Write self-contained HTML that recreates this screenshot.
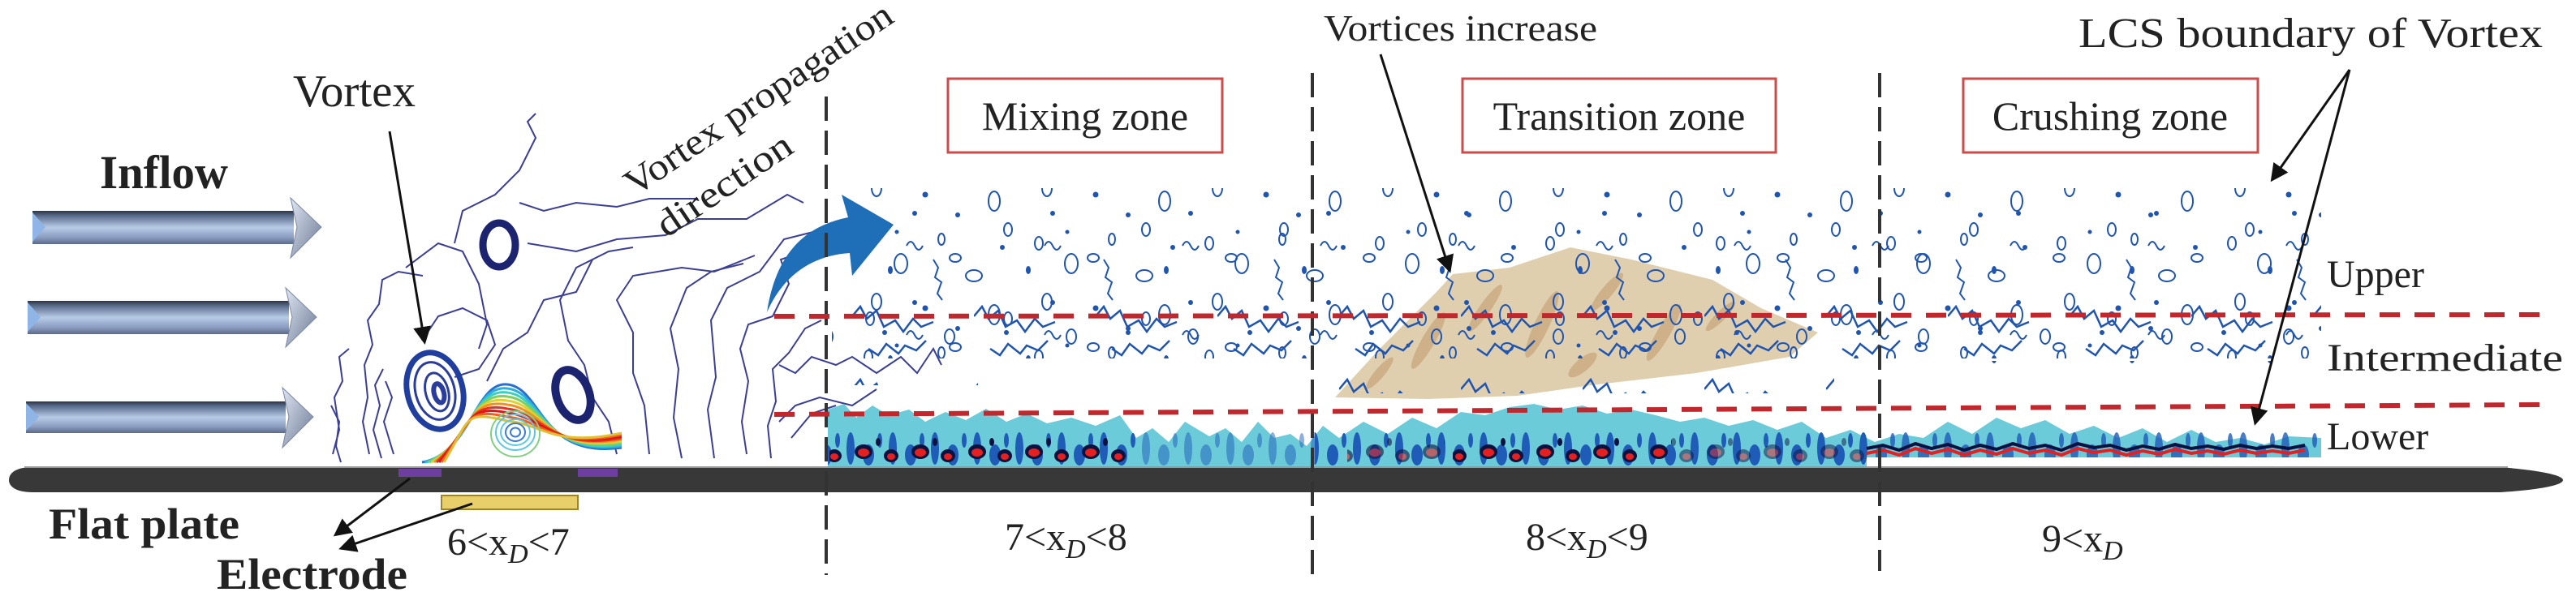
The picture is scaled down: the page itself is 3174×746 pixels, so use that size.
<!DOCTYPE html>
<html><head><meta charset="utf-8">
<style>
html,body{margin:0;padding:0;background:#fff;}
svg{display:block;}
text{font-family:"Liberation Serif","DejaVu Serif",serif;}
</style></head>
<body>
<svg id="fig" width="3174" height="746" viewBox="0 0 3174 746" xmlns="http://www.w3.org/2000/svg" font-family="Liberation Serif, DejaVu Serif, serif">
<defs>
<linearGradient id="ag" x1="0" y1="0" x2="0" y2="1">
<stop offset="0" stop-color="#2c3444"/><stop offset="0.15" stop-color="#5a6c8c"/><stop offset="0.5" stop-color="#b8cbe6"/><stop offset="0.8" stop-color="#8a9cc0"/><stop offset="1" stop-color="#5c6a8a"/>
</linearGradient>
<linearGradient id="hg" x1="0" y1="0" x2="1" y2="1">
<stop offset="0" stop-color="#dfe6f2"/><stop offset="1" stop-color="#6a7894"/>
</linearGradient>
<marker id="ahb" markerWidth="22" markerHeight="22" refX="18" refY="11" orient="auto" markerUnits="userSpaceOnUse" viewBox="0 0 22 22">
<path d="M0,0 L22,11 L0,22 z" fill="#111"/></marker>
<clipPath id="tanclip"><polygon points="1645,490 1700,430 1770,360 1790,338 1860,330 1935,305 2010,320 2110,345 2170,380 2240,410 2205,440 2090,460 1960,475 1870,488 1760,492"/></clipPath>
<pattern id="loopA" width="210" height="140" patternUnits="userSpaceOnUse">
<g fill="none" stroke="#1f55b0" stroke-width="2">
<ellipse cx="20" cy="20" rx="5" ry="8"/><ellipse cx="60" cy="45" rx="8" ry="12"/><ellipse cx="110" cy="15" rx="4" ry="7"/>
<ellipse cx="150" cy="60" rx="10" ry="7"/><ellipse cx="30" cy="92" rx="6" ry="10"/><ellipse cx="175" cy="108" rx="7" ry="12"/>
<path d="M100,40 l6,10 l-4,12 l8,6 l-5,14 l6,8"/>
</g>
<g fill="#1f55b0"><circle cx="90" cy="100" r="3.5"/><circle cx="130" cy="125" r="3"/><circle cx="185" cy="25" r="3"/><circle cx="55" cy="6" r="2.5"/></g>
</pattern>
<pattern id="loopB" width="170" height="110" patternUnits="userSpaceOnUse" x="37" y="23">
<g fill="none" stroke="#1f55b0" stroke-width="2">
<ellipse cx="15" cy="40" rx="5" ry="8"/><ellipse cx="120" cy="75" rx="7" ry="5"/><path d="M60,60 q5,-10 10,0 t10,0"/>
</g>
<g fill="#1f55b0"><circle cx="70" cy="20" r="3"/><ellipse cx="40" cy="90" rx="3" ry="5"/></g>
</pattern>
<pattern id="squig" width="150" height="90" patternUnits="userSpaceOnUse" y="360">
<path d="M0,30 l10,-12 l8,15 l12,-10 l9,20 l14,-8 l10,14 l12,-16 l10,10 l15,-6 M20,70 l12,8 l10,-14 l15,12 l8,-10 l14,6 l12,-12" fill="none" stroke="#1f55b0" stroke-width="2.5"/>
<ellipse cx="120" cy="55" rx="6" ry="9" fill="none" stroke="#1f55b0" stroke-width="2"/>
<circle cx="40" cy="50" r="3" fill="#1f55b0"/>
</pattern>
<pattern id="blueCols" width="52" height="80" patternUnits="userSpaceOnUse" y="495">
<ellipse cx="8" cy="58" rx="5" ry="20" fill="#1e5cb8"/><ellipse cx="30" cy="66" rx="7" ry="13" fill="#1e5cb8"/><ellipse cx="44" cy="48" rx="3" ry="9" fill="#1e5cb8"/>
</pattern>
<pattern id="cores" width="70" height="40" patternUnits="userSpaceOnUse" y="535">
<ellipse cx="14" cy="22" rx="11" ry="9" fill="#0b1240"/><ellipse cx="14" cy="23" rx="7" ry="5" fill="#e52020"/>
<ellipse cx="48" cy="27" rx="9" ry="8" fill="#0b1240"/><ellipse cx="48" cy="28" rx="5" ry="4" fill="#e52020"/>
<ellipse cx="32" cy="10" rx="3" ry="5" fill="#0b1240"/>
</pattern>
</defs>

<!-- inflow arrows -->
<g>
<g>
<rect x="40" y="260" width="322" height="41" fill="url(#ag)"/>
<polygon points="358,244 396,280 358,318 366,280" fill="url(#hg)" stroke="#7a88a4" stroke-width="1"/>
<polygon points="40,262 56,280 40,298" fill="#8fb4e6"/></g>
<g>
<rect x="34" y="371" width="322" height="41" fill="url(#ag)"/>
<polygon points="352,355 390,391 352,428 360,391" fill="url(#hg)" stroke="#7a88a4" stroke-width="1"/>
<polygon points="34,373 50,391 34,409" fill="#8fb4e6"/></g>
<g>
<rect x="32" y="495" width="320" height="39" fill="url(#ag)"/>
<polygon points="348,478 386,514 348,552 356,514" fill="url(#hg)" stroke="#7a88a4" stroke-width="1"/>
<polygon points="32,497 48,514 32,531" fill="#8fb4e6"/></g>
</g>
<text x="123" y="232" font-size="58" font-weight="bold" fill="#222" textLength="158" lengthAdjust="spacingAndGlyphs">Inflow</text>

<!-- streamlines -->
<g fill="none" stroke="#3b3e96" stroke-width="2">
<path d="M410,560 l8,-30 l-6,-40 l10,-20 l-4,-30 l12,-10 M420,570 l-6,-20 l4,-30 l-10,-20"/>
<path d="M455,560 l-8,-40 l6,-30 l-4,-40 l10,-25 l-6,-30 l14,-20 l4,-30 l20,-10 l30,5"/>
<path d="M470,565 l-10,-35 l8,-30 l-6,-25 l10,-20 M485,560 l-12,-40 l10,-30 l-8,-20"/>
<path d="M500,330 l40,-30 l30,10 l20,40 l10,50 l-10,30"/>
<path d="M520,420 l20,-30 l30,-10 l30,15 l10,30 l-20,30 l-30,10"/>
<path d="M560,300 l10,-40 l40,-20 l30,-30 l20,-40 l-10,-20 l10,-10 M640,250 l30,10 l40,-10 l50,5 l40,-10 l60,0"/>
<path d="M650,300 l60,10 l50,-15 l60,-5 l40,-20 l60,0 l50,-30 l20,10"/>
<path d="M760,560 l-10,-40 l-20,-30 l-10,-40 l-20,-30 l-10,-50 l20,-40 l40,-20 l30,-5"/>
<path d="M800,560 l-6,-60 l-14,-40 l0,-50 l-20,-40 l20,-30 l60,-10 l40,5 l50,-20"/>
<path d="M840,565 l-10,-50 l6,-60 l-10,-50 l20,-50 l30,-20 l40,-10"/>
<path d="M880,565 l-8,-60 l10,-40 l-6,-70 l20,-40 l40,-20 l30,-40 l40,-10"/>
<path d="M920,560 l-6,-40 l8,-50 l-10,-40 l10,-30 l30,-10 l20,-40 l-10,-30 l30,-10 l20,-30"/>
<path d="M950,565 l-4,-40 l10,-30 l-4,-40 l20,-20 l20,-30 l20,-10"/>
<path d="M960,450 l20,10 l20,-20 l30,10 l20,-10 l30,20 l30,-20 l20,20 l20,-30 l10,20"/>
<path d="M960,520 l20,-20 l30,-10 l40,10 l30,-20 M975,540 l25,-30 l30,-10"/>
<path d="M600,470 l20,-40 l30,-20 l20,-40 l40,-10 l20,-40"/>
</g>

<!-- tan region -->
<polygon points="1645,490 1700,430 1770,360 1790,338 1860,330 1935,305 2010,320 2110,345 2170,380 2240,410 2205,440 2090,460 1960,475 1870,488 1760,492" fill="#dccaa6" opacity="0.9"/>
<g fill="#c6a47a" opacity="0.7" clip-path="url(#tanclip)">
<ellipse cx="1760" cy="420" rx="8" ry="40" transform="rotate(30 1760 420)"/><ellipse cx="1830" cy="380" rx="7" ry="35" transform="rotate(35 1830 380)"/>
<ellipse cx="1900" cy="400" rx="9" ry="45" transform="rotate(25 1900 400)"/><ellipse cx="1980" cy="360" rx="7" ry="30" transform="rotate(40 1980 360)"/>
<ellipse cx="2050" cy="410" rx="8" ry="40" transform="rotate(30 2050 410)"/><ellipse cx="2120" cy="390" rx="6" ry="25" transform="rotate(45 2120 390)"/>
<ellipse cx="1700" cy="460" rx="6" ry="25" transform="rotate(40 1700 460)"/><ellipse cx="1950" cy="450" rx="8" ry="22" transform="rotate(50 1950 450)"/>
</g>
<g>
<rect x="1025" y="232" width="1835" height="210" fill="url(#loopA)"/>
<rect x="1025" y="232" width="1835" height="210" fill="url(#loopB)"/>
<rect x="1025" y="365" width="1835" height="80" fill="url(#squig)"/>
<rect x="1620" y="440" width="640" height="45" fill="url(#squig)"/>
<rect x="1025" y="440" width="180" height="35" fill="url(#squig)"/>
<rect x="2320" y="445" width="540" height="25" fill="url(#loopB)"/>
</g>

<!-- lower layer -->
<g>
<path fill="#6ccbd9" d="M1020,575 L1020,505 L1040,498 L1055,515 L1075,500 L1095,512 L1120,505 L1140,520 L1165,508 L1190,518 L1215,504 L1240,520 L1265,510 L1290,522 L1320,515 L1350,525 L1380,512 L1400,540 L1420,528 L1440,545 L1460,520 L1490,538 L1510,528 L1530,545 L1550,520 L1570,540 L1590,535 L1610,550 L1630,525 L1650,540 L1680,520 L1710,535 L1740,515 L1770,528 L1800,508 L1830,512 L1860,502 L1890,498 L1920,505 L1950,500 L1980,510 L2010,505 L2040,512 L2070,520 L2100,515 L2130,525 L2160,518 L2190,530 L2220,520 L2250,540 L2280,530 L2310,545 L2340,535 L2370,540 L2400,520 L2430,535 L2460,515 L2490,528 L2520,518 L2550,535 L2580,525 L2610,540 L2640,528 L2670,545 L2700,530 L2730,545 L2760,540 L2790,548 L2820,538 L2860,540 L2860,575 Z"/>
<rect x="1020" y="505" width="380" height="70" fill="url(#blueCols)"/>
<rect x="1400" y="530" width="220" height="45" fill="url(#blueCols)" opacity="0.5"/>
<rect x="1620" y="512" width="680" height="63" fill="url(#blueCols)"/>
<rect x="2300" y="525" width="560" height="40" fill="url(#blueCols)" opacity="0.8"/>
<rect x="1022" y="535" width="370" height="40" fill="url(#cores)"/>
<rect x="1660" y="538" width="120" height="37" fill="url(#cores)" opacity="0.6"/>
<rect x="1790" y="535" width="270" height="40" fill="url(#cores)"/>
<rect x="2060" y="540" width="240" height="35" fill="url(#cores)" opacity="0.5"/>
<path d="M2300,553 l20,-4 l20,6 l20,-8 l20,6 l20,-5 l20,7 l20,-6 l20,5 l20,-7 l20,6 l20,-4 l20,6 l20,-8 l20,5 l20,-3 l20,6 l20,-5 l20,4 l20,-6 l20,5 l20,-3 l20,4 l20,-5 l20,4 l20,-3 l20,3 l20,-4" fill="none" stroke="#0b1240" stroke-width="4"/>
<path d="M2300,559 l20,-4 l20,6 l20,-8 l20,6 l20,-5 l20,7 l20,-6 l20,5 l20,-7 l20,6 l20,-4 l20,6 l20,-8 l20,5 l20,-3 l20,6 l20,-5 l20,4 l20,-6 l20,5 l20,-3 l20,4 l20,-5 l20,4 l20,-3 l20,3 l20,-4" fill="none" stroke="#e52020" stroke-width="4"/>
<rect x="2300" y="564" width="560" height="11" fill="#ffffff"/>
</g>

<!-- blue propagation arrow -->
<path d="M945,385 C955,320 985,280 1045,268 L1037,240 L1101,277 L1050,340 L1047,312 C1000,315 965,340 945,385 Z" fill="#1f6fb8"/>

<!-- plate -->
<path d="M40,576 L3080,576 C3130,580 3158,586 3158,592 C3158,598 3130,604 3080,607 L40,607 C20,607 11,600 11,592 C11,583 20,576 40,576 Z" fill="#383838"/>
<line x1="30" y1="576" x2="3090" y2="576" stroke="#999" stroke-width="2"/>
<rect x="491" y="578" width="53" height="10" fill="#6e3fa0"/>
<rect x="712" y="578" width="49" height="10" fill="#6e3fa0"/>
<rect x="544" y="611" width="168" height="17" fill="#e8cf6a" stroke="#9a8430" stroke-width="2"/>

<!-- dashed zone lines -->
<g stroke="#333" stroke-width="4" stroke-dasharray="30,12">
<line x1="1018" y1="119" x2="1018" y2="709"/>
<line x1="1617" y1="90" x2="1617" y2="715"/>
<line x1="2316" y1="90" x2="2316" y2="704"/>
</g>
<g stroke="#c0282d" stroke-width="6" stroke-dasharray="25,18">
<line x1="954" y1="390" x2="3133" y2="388"/>
<line x1="954" y1="511" x2="3133" y2="499"/>
</g>

<!-- zone boxes -->
<g>
<rect x="1168" y="97" width="338" height="91" fill="none" stroke="#cc4b4b" stroke-width="3"/>
<text x="1337" y="160" font-size="50" text-anchor="middle" fill="#222">Mixing zone</text></g>
<g>
<rect x="1802" y="97" width="386" height="91" fill="none" stroke="#cc4b4b" stroke-width="3"/>
<text x="1995" y="160" font-size="50" text-anchor="middle" fill="#222">Transition zone</text></g>
<g>
<rect x="2419" y="97" width="363" height="91" fill="none" stroke="#cc4b4b" stroke-width="3"/>
<text x="2600" y="160" font-size="50" text-anchor="middle" fill="#222">Crushing zone</text></g>

<!-- annotations -->
<text x="361" y="131" font-size="56" fill="#222" textLength="151" lengthAdjust="spacingAndGlyphs">Vortex</text>
<line x1="480" y1="162" x2="523" y2="421" stroke="#111" stroke-width="3" marker-end="url(#ahb)"/>
<g transform="translate(782,243) rotate(-34)">
<text x="0" y="0" font-size="46" fill="#222" textLength="388" lengthAdjust="spacingAndGlyphs">Vortex propagation</text>
<text x="4" y="64" font-size="46" fill="#222" textLength="192" lengthAdjust="spacingAndGlyphs">direction</text></g>
<text x="1631" y="50" font-size="46" fill="#222" textLength="337" lengthAdjust="spacingAndGlyphs">Vortices increase</text>
<line x1="1701" y1="67" x2="1786" y2="333" stroke="#111" stroke-width="3" marker-end="url(#ahb)"/>
<text x="2561" y="58" font-size="52" fill="#222" textLength="572" lengthAdjust="spacingAndGlyphs">LCS boundary of Vortex</text>
<line x1="2895" y1="86" x2="2800" y2="221" stroke="#111" stroke-width="3" marker-end="url(#ahb)"/>
<line x1="2895" y1="86" x2="2779" y2="521" stroke="#111" stroke-width="3" marker-end="url(#ahb)"/>
<text x="2867" y="354" font-size="48" fill="#222">Upper</text>
<text x="2867" y="457" font-size="48" fill="#222" textLength="291" lengthAdjust="spacingAndGlyphs">Intermediate</text>
<text x="2867" y="554" font-size="48" fill="#222">Lower</text>
<text x="60" y="664" font-size="54" font-weight="bold" fill="#222" textLength="235" lengthAdjust="spacingAndGlyphs">Flat plate</text>
<text x="267" y="726" font-size="54" font-weight="bold" fill="#222" textLength="235" lengthAdjust="spacingAndGlyphs">Electrode</text>
<line x1="505" y1="590" x2="414" y2="659" stroke="#111" stroke-width="3" marker-end="url(#ahb)"/>
<line x1="582" y1="621" x2="421" y2="676" stroke="#111" stroke-width="3" marker-end="url(#ahb)"/>
<g font-size="48" fill="#222">
<text x="551" y="684">6&lt;x<tspan font-style="italic" font-size="34" dy="10">D</tspan><tspan dy="-10">&lt;7</tspan></text>
<text x="1238" y="678">7&lt;x<tspan font-style="italic" font-size="34" dy="10">D</tspan><tspan dy="-10">&lt;8</tspan></text>
<text x="1880" y="678">8&lt;x<tspan font-style="italic" font-size="34" dy="10">D</tspan><tspan dy="-10">&lt;9</tspan></text>
<text x="2516" y="680">9&lt;x<tspan font-style="italic" font-size="34" dy="10">D</tspan></text>
</g>

<!-- vortex near electrode -->
<g>
<ellipse cx="615" cy="302" rx="20" ry="27" fill="none" stroke="#1c2470" stroke-width="9"/>
<ellipse cx="706" cy="487" rx="20" ry="32" fill="none" stroke="#1c2470" stroke-width="10" transform="rotate(-20 706 487)"/>
<g fill="none" stroke="#2a3c9c" stroke-width="3" transform="rotate(-15 536 482)">
<ellipse cx="536" cy="482" rx="34" ry="48" stroke-width="7" stroke="#1f3e9e"/>
<ellipse cx="536" cy="482" rx="24" ry="36"/><ellipse cx="538" cy="484" rx="14" ry="24"/><ellipse cx="540" cy="486" rx="6" ry="12" stroke-width="6"/></g>
<g fill="none" stroke-width="3">
<path d="M520,570 C580,560 585,470 625,474 C668,478 665,566 766,552" stroke="#2a6fd0"/>
<path d="M523,570 C580,555 583,474 625,479 C668,483 667,564 766,550" stroke="#2bb0e0"/>
<path d="M526,570 C580,550 582,478 625,484 C668,488 669,563 766,548" stroke="#3cd0c0"/>
<path d="M529,570 C580,545 580,482 625,489 C668,493 671,561 766,546" stroke="#7fd060"/>
<path d="M532,570 C580,540 579,486 625,494 C668,498 673,560 766,544" stroke="#e0d030"/>
<path d="M535,570 C580,535 577,490 625,499 C668,503 675,558 766,542" stroke="#f09020"/>
<path d="M538,570 C580,530 576,494 625,504 C668,508 677,557 766,540" stroke="#e83020"/>
<path d="M541,570 C580,525 574,498 625,509 C668,513 679,555 766,538" stroke="#d81818"/>
<path d="M544,570 C580,520 573,502 625,514 C668,518 681,554 766,536" stroke="#f06020"/>
<path d="M547,570 C580,515 571,506 625,519 C668,523 683,552 766,534" stroke="#e0c030"/>
<ellipse cx="635" cy="533" rx="6" ry="5.5" stroke="#3a7ad8" stroke-width="2"/><ellipse cx="635" cy="533" rx="12" ry="11" stroke="#3a7ad8" stroke-width="2"/>
<ellipse cx="635" cy="533" rx="18" ry="16" stroke="#5cc8e0" stroke-width="2"/><ellipse cx="635" cy="533" rx="24" ry="22" stroke="#5cc8e0" stroke-width="2"/>
<ellipse cx="635" cy="535" rx="30" ry="28" stroke="#7fd080" stroke-width="2"/>
</g>
</g>
</svg>
</body></html>
